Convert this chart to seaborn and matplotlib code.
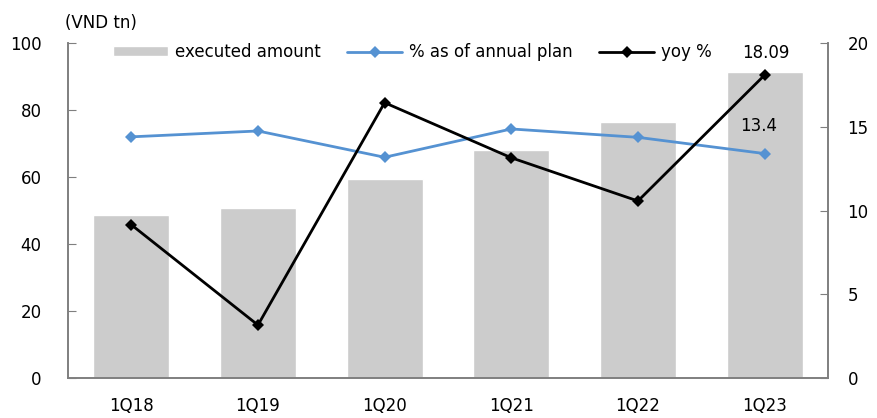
import numpy as np
import pandas as pd
import matplotlib
matplotlib.use("Agg")
import matplotlib.pyplot as plt
import seaborn as sns

# chart data
quarters = ["1Q18", "1Q19", "1Q20", "1Q21", "1Q22", "1Q23"]
executed_amount = [48.7, 50.7, 59.4, 68.1, 76.3, 91.5]
pct_annual_plan = [14.4, 14.75, 13.18, 14.87, 14.37, 13.4]
yoy_pct = [9.15, 3.16, 16.44, 13.15, 10.57, 18.09]

sns.set_style("white")
plt.rcParams['font.family'] = ['DejaVu Sans']
plt.rcParams['font.size'] = 12
plt.rcParams['text.color'] = 'black'
plt.rcParams['xtick.color'] = 'black'
plt.rcParams['ytick.color'] = 'black'

df = pd.DataFrame({"quarter": quarters, "amount": executed_amount,
                   "plan": pct_annual_plan, "yoy": yoy_pct})

fig = plt.figure(figsize=(8.78, 4.18), dpi=100)
ax = fig.add_axes([0.0774, 0.0957, 0.8656, 0.8013])

sns.barplot(data=df, x="quarter", y="amount", color="#cccccc", saturation=1,
            width=0.6, ax=ax, label="executed amount", zorder=1)
ax.set_ylim(0, 100)
ax.set_xlim(-0.5, len(quarters) - 0.5)
ax.set_yticks(np.arange(0, 101, 20))
ax.set_xlabel("")
ax.set_ylabel("")

ax2 = ax.twinx()
sns.lineplot(data=df, x="quarter", y="plan", color="#5592d2", marker="D",
             markersize=6, markeredgewidth=0, linewidth=2, ax=ax2,
             label="% as of annual plan", sort=False)
sns.lineplot(data=df, x="quarter", y="yoy", color="black", marker="D",
             markersize=6, markeredgewidth=0, linewidth=2, ax=ax2,
             label="yoy %", sort=False)
ax2.set_ylim(0, 20)
ax2.set_yticks(np.arange(0, 21, 5))
ax2.set_ylabel("")
ax2.set_xlim(-0.5, len(quarters) - 0.5)

# data labels on last points
ax2.annotate(f"{pct_annual_plan[-1]:.1f}", (len(quarters) - 1, pct_annual_plan[-1]),
             xytext=(-4, 20), textcoords="offset points", ha="center",
             va="center", fontsize=12)
ax2.annotate(f"{yoy_pct[-1]:.2f}", (len(quarters) - 1, yoy_pct[-1]),
             xytext=(1, 16), textcoords="offset points", ha="center",
             va="center", fontsize=12)

# spines and ticks
for a in (ax, ax2):
    a.spines["top"].set_visible(False)
    for s in ("left", "right", "bottom"):
        a.spines[s].set_color("#7f7f7f")
        a.spines[s].set_linewidth(1.2)
ax.tick_params(axis="y", direction="in", length=6, color="#7f7f7f", pad=19)
ax2.tick_params(axis="y", direction="in", length=6, color="#7f7f7f", pad=14)
ax.set_xticks(np.arange(-0.5, len(quarters), 0.5), minor=True)
ax.tick_params(axis="x", which="both", direction="in", length=6,
               color="#7f7f7f", pad=14)
ax.tick_params(axis="x", which="major", length=0)

fig.text(0.074, 0.945, "(VND tn)", fontsize=12, ha="left", va="center")

ax2.get_legend().remove()
h1, l1 = ax.get_legend_handles_labels()
h2, l2 = ax2.get_legend_handles_labels()
ax.legend(h1 + h2, l1 + l2, ncol=3, frameon=False, loc="upper left",
          bbox_to_anchor=(0.04, 1.045), handlelength=3.3, handleheight=0.5,
          columnspacing=1.6, handletextpad=0.4, fontsize=12)

fig.savefig("out.png", dpi=100)
